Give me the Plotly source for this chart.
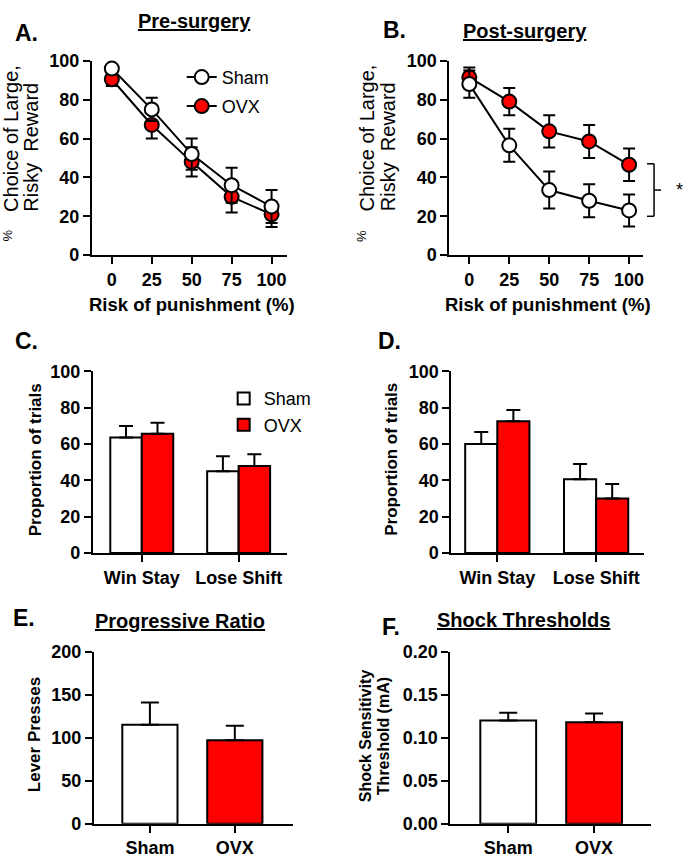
import plotly.graph_objects as go

# ---------------- data ----------------
risk = [0, 25, 50, 75, 100]
pre_sham = [96, 75, 52, 36, 25]
pre_sham_err = [2, 6, 8, 9, 8.5]
pre_ovx = [90.5, 67, 48, 30, 21]
pre_ovx_err = [3.5, 7, 7.5, 8, 6.5]
post_sham = [88, 56.5, 33.5, 28, 23]
post_sham_err = [7, 8.5, 9.5, 8.5, 8.2]
post_ovx = [91.5, 79, 63.7, 58.5, 46.5]
post_ovx_err = [5, 7, 8.3, 8.5, 8.4]

strategies = ["Win Stay", "Lose Shift"]
pre_strat_sham = [63.6, 45.1]
pre_strat_sham_err = [6.3, 8.2]
pre_strat_ovx = [65.7, 47.9]
pre_strat_ovx_err = [6.0, 6.5]
post_strat_sham = [60.1, 40.6]
post_strat_sham_err = [6.6, 8.4]
post_strat_ovx = [72.5, 30.0]
post_strat_ovx_err = [6.3, 8.0]

groups = ["Sham", "OVX"]
pr_values = [115, 97]
pr_err = [26, 17]
shock_values = [0.120, 0.118]
shock_err = [0.009, 0.010]

FONT = "Liberation Sans, Arial, sans-serif"
W, H = 685, 860
RED = "#FF0000"


def px(x, y):
    return x / W, 1 - y / H


def dom(a, b, c, d):
    return dict(x=[a / W, b / W], y=[1 - d / H, 1 - c / H])


fig = go.Figure()


def add_lines(sham, sham_err, ovx, ovx_err, xa, ya, show):
    fig.add_trace(go.Scatter(
        x=risk, y=ovx, mode="lines+markers", name="OVX",
        xaxis=xa, yaxis=ya, legend="legend", legendgroup="ovx", legendrank=2,
        showlegend=show,
        line=dict(color="black", width=2),
        marker=dict(size=14, color=RED, line=dict(color="black", width=2)),
        error_y=dict(type="data", array=ovx_err, color="black", thickness=2, width=6),
        cliponaxis=False))
    fig.add_trace(go.Scatter(
        x=risk, y=sham, mode="lines+markers", name="Sham",
        xaxis=xa, yaxis=ya, legend="legend", legendgroup="sham", legendrank=1,
        showlegend=show,
        line=dict(color="black", width=2),
        marker=dict(size=14, color="white", line=dict(color="black", width=2)),
        error_y=dict(type="data", array=sham_err, color="black", thickness=2, width=6),
        cliponaxis=False))


add_lines(pre_sham, pre_sham_err, pre_ovx, pre_ovx_err, "x", "y", True)
add_lines(post_sham, post_sham_err, post_ovx, post_ovx_err, "x2", "y2", False)


def add_group_bars(sham, sham_err, ovx, ovx_err, xa, ya, show):
    fig.add_trace(go.Bar(
        x=strategies, y=sham, name="Sham", xaxis=xa, yaxis=ya,
        legend="legend2", showlegend=show, offset=-0.325, width=0.325,
        marker=dict(color="white", line=dict(color="black", width=2)),
        error_y=dict(type="data", array=sham_err, arrayminus=[0] * len(sham),
                     symmetric=False, color="black", thickness=2, width=7)))
    fig.add_trace(go.Bar(
        x=strategies, y=ovx, name="OVX", xaxis=xa, yaxis=ya,
        legend="legend2", showlegend=show, offset=0, width=0.325,
        marker=dict(color=RED, line=dict(color="black", width=2)),
        error_y=dict(type="data", array=ovx_err, arrayminus=[0] * len(ovx),
                     symmetric=False, color="black", thickness=2, width=7)))


add_group_bars(pre_strat_sham, pre_strat_sham_err, pre_strat_ovx, pre_strat_ovx_err, "x3", "y3", True)
add_group_bars(post_strat_sham, post_strat_sham_err, post_strat_ovx, post_strat_ovx_err, "x4", "y4", False)

for vals, errs, xa, ya in [(pr_values, pr_err, "x5", "y5"), (shock_values, shock_err, "x6", "y6")]:
    fig.add_trace(go.Bar(
        x=groups, y=vals, xaxis=xa, yaxis=ya, showlegend=False, width=0.65,
        marker=dict(color=["white", RED], line=dict(color="black", width=2)),
        error_y=dict(type="data", array=errs, arrayminus=[0] * len(vals),
                     symmetric=False, color="black", thickness=2, width=9)))

tickfont = dict(family=FONT, size=18, color="black", weight="bold")
base = dict(showline=True, linecolor="black", linewidth=2, ticks="outside",
            ticklen=7, tickwidth=2, tickcolor="black", showgrid=False,
            zeroline=False, tickfont=tickfont, fixedrange=True)

dA = dom(92, 287, 52, 251)
dB = dom(450, 644, 52, 251)
dC = dom(93, 287, 370, 556)
dD = dom(452, 645, 370, 556)
dE = dom(94, 293, 657, 833)
dF = dom(451, 652, 657, 833)

fig.update_layout(
    xaxis=dict(base, domain=dA["x"], anchor="y", range=[-12.5, 109.4], tickvals=risk),
    yaxis=dict(base, domain=dA["y"], anchor="x", range=[0, 100], tickvals=[0, 20, 40, 60, 80, 100]),
    xaxis2=dict(base, domain=dB["x"], anchor="y2", range=[-12.5, 108.75], tickvals=risk),
    yaxis2=dict(base, domain=dB["y"], anchor="x2", range=[0, 100], tickvals=[0, 20, 40, 60, 80, 100]),
    xaxis3=dict(base, domain=dC["x"], anchor="y3", range=[-0.505, 1.495], type="category"),
    yaxis3=dict(base, domain=dC["y"], anchor="x3", range=[0, 100], tickvals=[0, 20, 40, 60, 80, 100]),
    xaxis4=dict(base, domain=dD["x"], anchor="y4", range=[-0.465, 1.485], type="category"),
    yaxis4=dict(base, domain=dD["y"], anchor="x4", range=[0, 100], tickvals=[0, 20, 40, 60, 80, 100]),
    xaxis5=dict(base, domain=dE["x"], anchor="y5", range=[-0.66, 1.68], type="category"),
    yaxis5=dict(base, domain=dE["y"], anchor="x5", range=[0, 200], tickvals=[0, 50, 100, 150, 200]),
    xaxis6=dict(base, domain=dF["x"], anchor="y6", range=[-0.674, 1.663], type="category"),
    yaxis6=dict(base, domain=dF["y"], anchor="x6", range=[0, 0.2],
                tickvals=[0, 0.05, 0.10, 0.15, 0.20], tickformat=".2f"),
)

fig.update_layout(
    width=W, height=H, margin=dict(l=0, r=0, t=0, b=0),
    paper_bgcolor="white", plot_bgcolor="white",
    font=dict(family=FONT, color="black"),
    legend=dict(x=182 / W, y=1 - 50 / H, xanchor="left", yanchor="top",
                font=dict(family=FONT, size=18, color="black"),
                bgcolor="rgba(0,0,0,0)", traceorder="grouped", tracegroupgap=2.6,
                itemwidth=30),
    legend2=dict(x=224 / W, y=1 - 379 / H, xanchor="left", yanchor="top",
                 font=dict(family=FONT, size=18, color="black"),
                 bgcolor="rgba(0,0,0,0)", traceorder="normal", itemwidth=30),
    showlegend=True,
)

ann = []


def text(x, y, t, size=16, angle=0, bold=True):
    ax, ay = px(x, y)
    ann.append(dict(x=ax, y=ay, xref="paper", yref="paper", text=t, showarrow=False,
                    textangle=angle, xanchor="center", yanchor="middle",
                    font=dict(family=FONT, size=size, color="black",
                              weight="bold" if bold else "normal")))


for lx, ly, t in [(27, 24, "A."), (395, 20, "B."), (27, 339, "C."), (390, 339, "D."),
                  (24, 622, "E."), (392, 632, "F.")]:
    text(lx, ly, t, size=23)

text(195, 11, "<u>Pre-surgery</u>", size=20)
text(526, 22, "<u>Post-surgery</u>", size=20)
text(180, 626, "<u>Progressive Ratio</u>", size=20)
text(524, 625, "<u>Shock Thresholds</u>", size=20)

text(192, 302, "Risk of punishment (%)", size=18.5)
text(549, 302, "Risk of punishment (%)", size=18.5)

nb = "\u00a0"
for cx1, cx2, cxp in [(11, 31, 8), (367, 388, 362)]:
    text(cx1, 131, "Choice of Large,", size=20, angle=-90, bold=False)
    text(cx2, 140, "Risky" + nb + nb + "Reward", size=20, angle=-90, bold=False)
    text(cxp, 231, "%", size=13, angle=-90, bold=False)
text(35, 460, "Proportion of trials", size=17, angle=-90)
text(392, 460, "Proportion of trials", size=17, angle=-90)
text(34.5, 742, "Lever Presses", size=17, angle=-90)
text(366, 743, "Shock Sensitivity", size=16, angle=-90)
text(384, 743, "Threshold (mA)", size=16, angle=-90)

x0d, x1d = dB["x"]
y0d, y1d = dB["y"]


def bx(f):
    return x0d + f * (x1d - x0d)


def by(v):
    return y0d + v / 100 * (y1d - y0d)


top, bot = by(47), by(20)
mid = (top + bot) / 2
xl, xv, xr = bx(1.0206), bx(1.0567), bx(1.0928)
shapes = []
for (a0, b0, a1, b1) in [(xl, top, xv, top), (xv, top, xv, bot), (xl, bot, xv, bot), (xv, mid, xr, mid)]:
    shapes.append(dict(type="line", xref="paper", yref="paper",
                       x0=a0, y0=b0, x1=a1, y1=b1, line=dict(color="black", width=1.5)))
ann.append(dict(x=bx(1.186), y=mid, xref="paper", yref="paper", text="*",
                showarrow=False, xanchor="center", yanchor="middle",
                font=dict(family=FONT, size=18, color="black")))

fig.update_layout(annotations=ann, shapes=shapes)

fig.write_html("out.html", config={"displayModeBar": False},
               post_script="document.body.style.margin='0';document.body.style.overflow='hidden';")
